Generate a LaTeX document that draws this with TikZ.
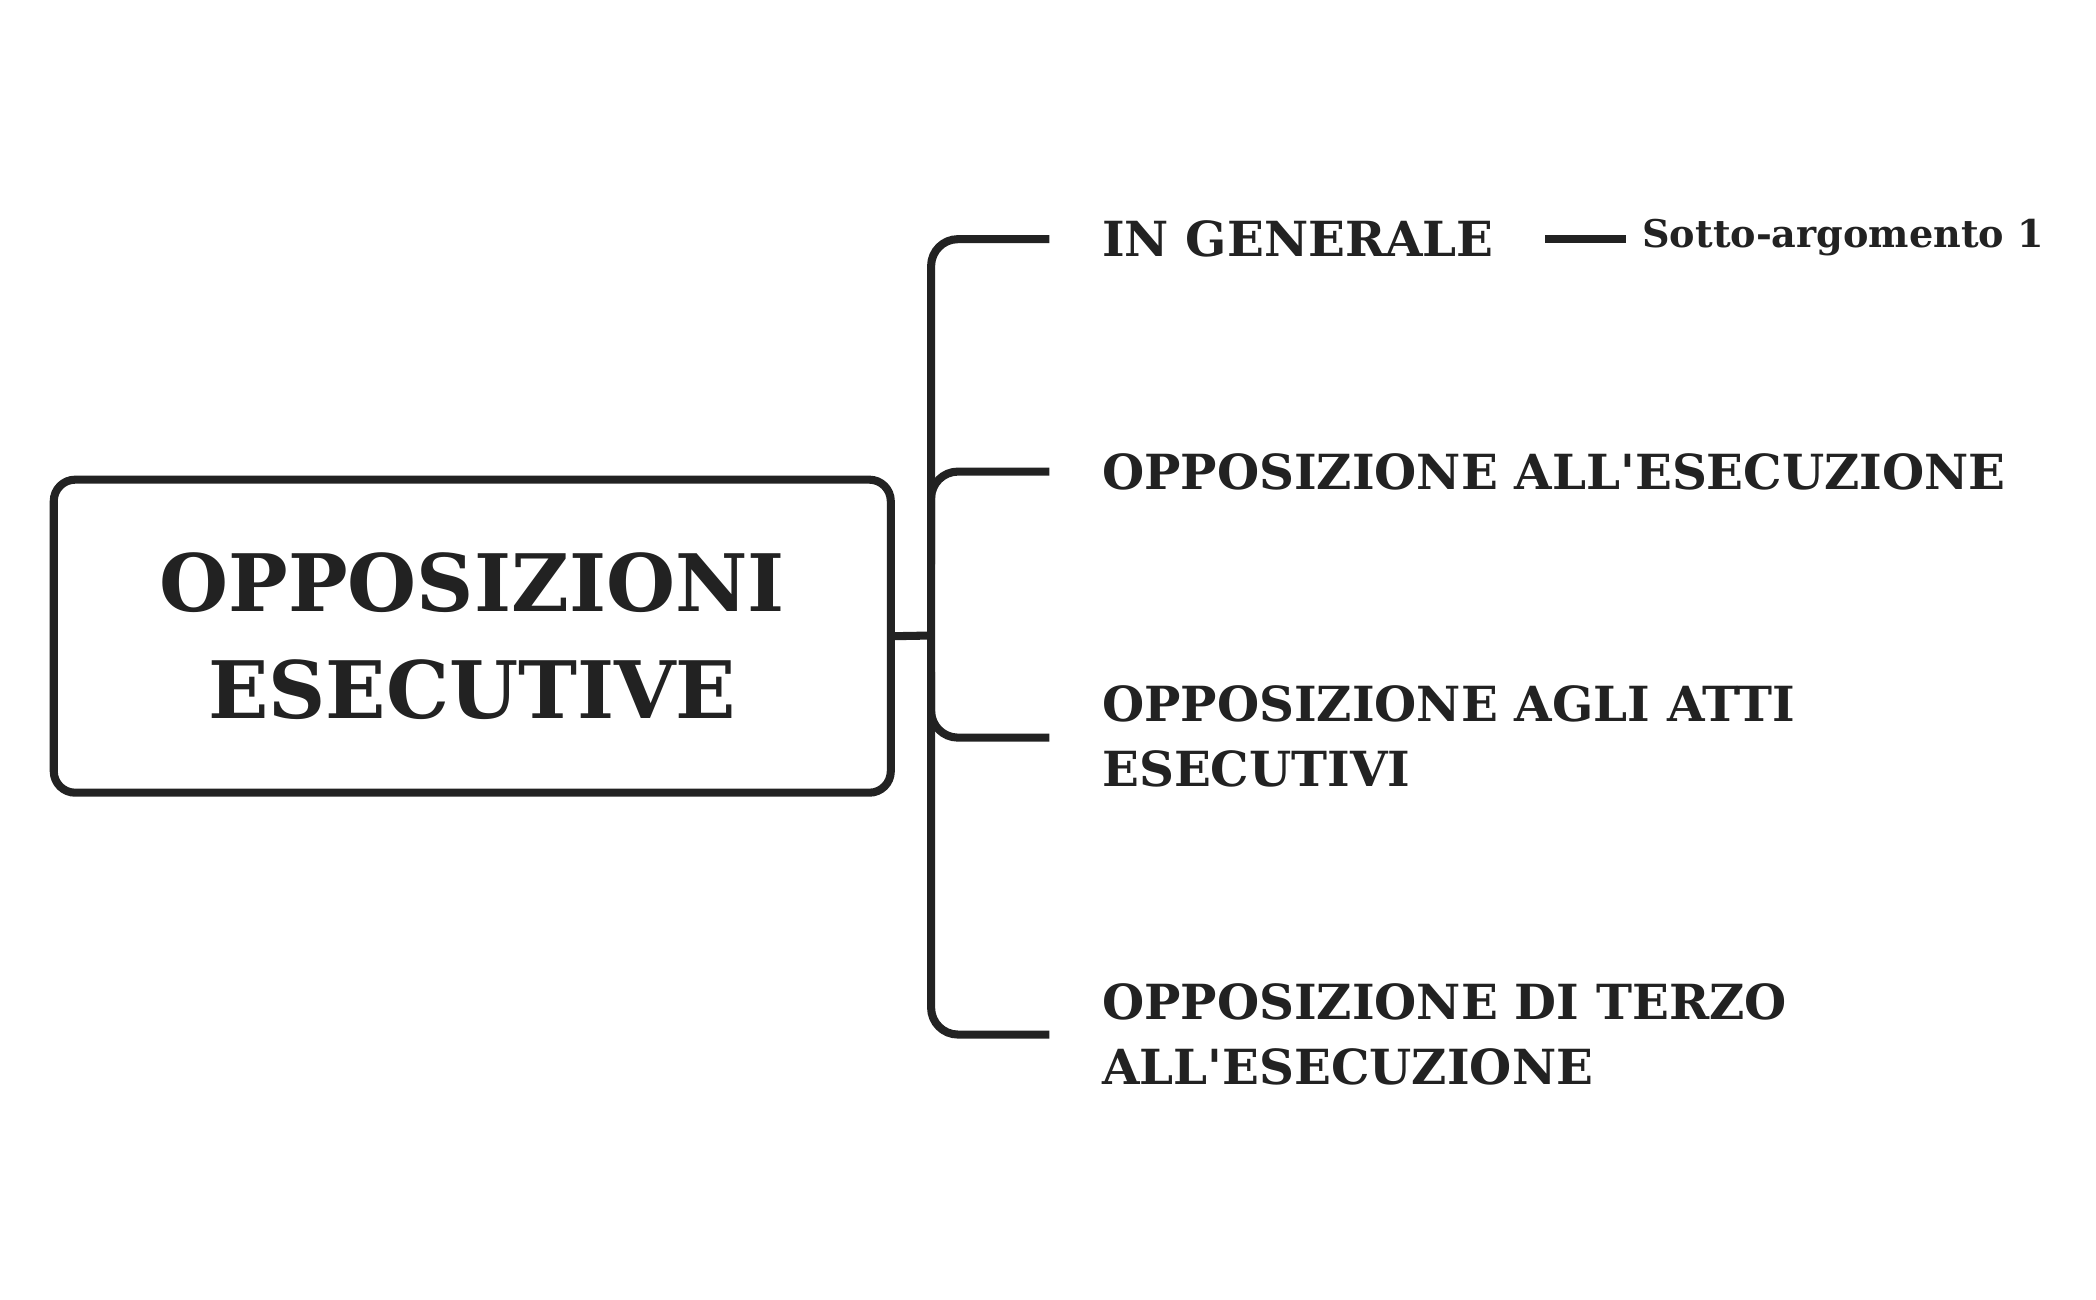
\documentclass[tikz,border=0pt]{standalone}
\usepackage{fontspec}
\setmainfont{DejaVu Serif}
\definecolor{ink}{HTML}{222222}
\begin{document}
\begin{tikzpicture}[x=0.5pt,y=-0.5pt,
  ln/.style={draw=ink,line width=3pt},
  lbl/.style={anchor=west,text=ink,font=\bfseries\fontsize{18}{24}\selectfont,align=left,inner sep=0pt},
  sub/.style={anchor=west,text=ink,font=\bfseries\fontsize{14.2}{18}\selectfont,inner sep=0pt}]
\useasboundingbox (0,0) rectangle (1560,967);
\node[ln,rounded corners=8pt,minimum width=311.5pt,minimum height=116.5pt,text=ink,align=center,
  font=\bfseries\fontsize{29.5}{40}\selectfont] (root) at (351.5,473.5) {OPPOSIZIONI\\ESECUTIVE};
\coordinate (j) at (693,473);
\node[lbl] (a) at (820,178) {IN GENERALE};
\node[lbl] (b) at (820,351) {OPPOSIZIONE ALL\textquotesingle ESECUZIONE};
\node[lbl] (c) at (820,548) {OPPOSIZIONE AGLI ATTI\\ESECUTIVI};
\node[lbl] (d) at (820,770) {OPPOSIZIONE DI TERZO\\ALL\textquotesingle ESECUZIONE};
\node[sub] (s) at (1222,177) {Sotto-argomento 1};
\draw[ln] (root.east) -- (j);
\draw[ln,rounded corners=10pt] (781,178) -- (693,178) -- (693,770) -- (781,770);
\draw[ln,rounded corners=10pt] (781,351) -- (693,351) -- (693,420);
\draw[ln,rounded corners=10pt] (781,549) -- (693,549) -- (693,500);
\draw[ln] (1150,178) -- (1210,178);
\end{tikzpicture}
\end{document}
